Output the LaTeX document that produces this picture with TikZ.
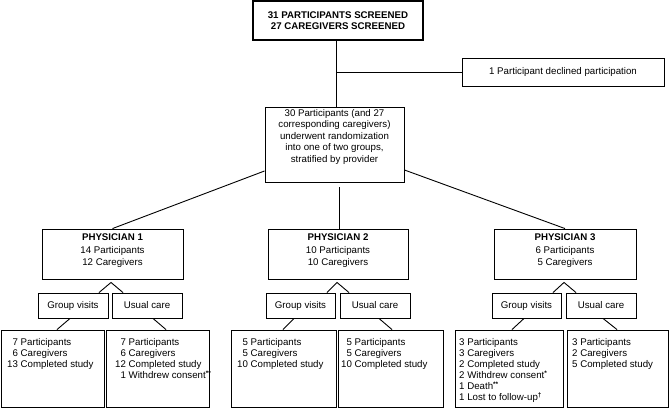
\documentclass[tikz,border=0pt]{standalone}
\usepackage{fontspec}
\setmainfont{Liberation Sans}
\usetikzlibrary{calc}
\newcommand\diagfont{\fontsize{9.7}{11}\selectfont}
\newcommand\supmark[1]{\raisebox{3.2pt}{\fontsize{6.5}{6.5}\selectfont\bfseries #1}}
\begin{document}
\begin{tikzpicture}[x=1pt,y=-1pt,
  box/.style={draw, line width=0.9pt, inner sep=0pt, align=center, font=\diagfont},
  topbox/.style={box, line width=1.5pt, font=\diagfont\bfseries},
  txt/.style={anchor=north west, inner sep=0pt, font=\diagfont},
  conn/.style={line width=0.9pt}]
\useasboundingbox (0,0) rectangle (669,408);
% boxes
\node[topbox, minimum width=170, minimum height=39] (top) at (338,20.5)
  {31 PARTICIPANTS SCREENED\\27 CAREGIVERS SCREENED};
\node[box, minimum width=202, minimum height=28] (decl) at (563,72)
  {1 Participant declined participation};
\node[box, minimum width=139, minimum height=75, font=\fontsize{9.7}{11.5}\selectfont] (rand) at (334.5,144.5)
  {30 Participants (and 27\\corresponding caregivers)\\underwent randomization\\into one of two groups,\\stratified by provider\\[6pt]};
\node[box, minimum width=141, minimum height=50, font=\fontsize{9.7}{12.5}\selectfont] (phys1) at (112.5,254)
  {\textbf{PHYSICIAN 1}\\14 Participants\\12 Caregivers\\[-4pt]};
\node[box, minimum width=140, minimum height=50, font=\fontsize{9.7}{12.5}\selectfont] (phys2) at (338,254)
  {\textbf{PHYSICIAN 2}\\10 Participants\\10 Caregivers\\[-4pt]};
\node[box, minimum width=142, minimum height=50, font=\fontsize{9.7}{12.5}\selectfont] (phys3) at (565,254)
  {\textbf{PHYSICIAN 3}\\6 Participants\\5 Caregivers\\[-4pt]};
% arms
\node[box, minimum width=70, minimum height=25] (gv1) at (73,305.5) {Group visits};
\node[box, minimum width=70, minimum height=25] (uc1) at (147,305.5) {Usual care};
\node[box, minimum width=69, minimum height=25] (gv2) at (300.5,305.5) {Group visits};
\node[box, minimum width=70, minimum height=25] (uc2) at (375,305.5) {Usual care};
\node[box, minimum width=69, minimum height=25] (gv3) at (526.5,305.5) {Group visits};
\node[box, minimum width=70, minimum height=25] (uc3) at (601,305.5) {Usual care};
% outcome boxes
\node[box, minimum width=103, minimum height=77] (o1l) at (52.5,368.5) {};
\node[box, minimum width=103, minimum height=77] (o1r) at (157.5,368.5) {};
\node[box, minimum width=105, minimum height=77] (o2l) at (283.5,368.5) {};
\node[box, minimum width=105, minimum height=77] (o2r) at (390.5,368.5) {};
\node[box, minimum width=108, minimum height=77] (o3l) at (509,368.5) {};
\node[box, minimum width=101, minimum height=77] (o3r) at (617.5,368.5) {};
% outcome texts
\node[txt] (t1l) at (7,337.3) {\begin{tabular}{@{}r@{ }l@{}}7&Participants\\6&Caregivers\\13&Completed study\end{tabular}};
\node[txt] (t1r) at (115,337.3) {\begin{tabular}{@{}r@{ }l@{}}7&Participants\\6&Caregivers\\12&Completed study\\1&Withdrew consent\supmark{**}\end{tabular}};
\node[txt] (t2l) at (237,337.3) {\begin{tabular}{@{}r@{ }l@{}}5&Participants\\5&Caregivers\\10&Completed study\end{tabular}};
\node[txt] (t2r) at (341,337.3) {\begin{tabular}{@{}r@{ }l@{}}5&Participants\\5&Caregivers\\10&Completed study\end{tabular}};
\node[txt] (t3l) at (459,337.3) {\begin{tabular}{@{}r@{ }l@{}}3&Participants\\3&Caregivers\\2&Completed study\\2&Withdrew consent\supmark{*}\\1&Death\supmark{**}\\1&Lost to follow-up\supmark{\textdagger}\end{tabular}};
\node[txt] (t3r) at (572,337.3) {\begin{tabular}{@{}r@{ }l@{}}3&Participants\\2&Caregivers\\5&Completed study\end{tabular}};
% connectors
\coordinate (tl) at ($(top.south)+(-2,0)$);
\draw[conn] (tl) -- (tl |- rand.north);
\draw[conn] (tl |- decl.west) -- (decl.west);
\draw[conn] (rand) -- (phys1.north);
\draw[conn] (rand) -- (phys3.north);
\coordinate (p2top) at ($(phys2.north)+(1,0)$);
\draw[conn] ($(p2top |- rand.south)+(0,5)$) -- (p2top);
% carets
\draw[conn] ($(gv1.north)+(26,0)$) -- ($(phys1.south)+(-1.5,3)$) -- ($(uc1.north)+(-24,0)$);
\draw[conn] ($(gv2.north)+(26.5,0)$) -- ($(phys2.south)+(-1,3)$) -- ($(uc2.north)+(-26,0)$);
\draw[conn] ($(gv3.north)+(26.5,0)$) -- ($(phys3.south)+(-1,3)$) -- ($(uc3.north)+(-25,0)$);
% arm to outcome
\draw[conn] ($(gv1.south)+(-3,0)$) -- ($(o1l.north)+(4.5,0)$);
\draw[conn] ($(uc1.south)+(6,0)$) -- ($(o1r.north)+(8.5,0)$);
\draw[conn] ($(gv2.south)+(-6.5,0)$) -- ($(o2l.north)+(-0.5,0)$);
\draw[conn] ($(uc2.south)+(4,0)$) -- ($(o2r.north)+(1.5,0)$);
\draw[conn] ($(gv3.south)+(-2.5,0)$) -- ($(o3l.north)+(3,0)$);
\draw[conn] ($(uc3.south)+(2,0)$) -- ($(o3r.north)+(-0.5,0)$);
\end{tikzpicture}
\end{document}
